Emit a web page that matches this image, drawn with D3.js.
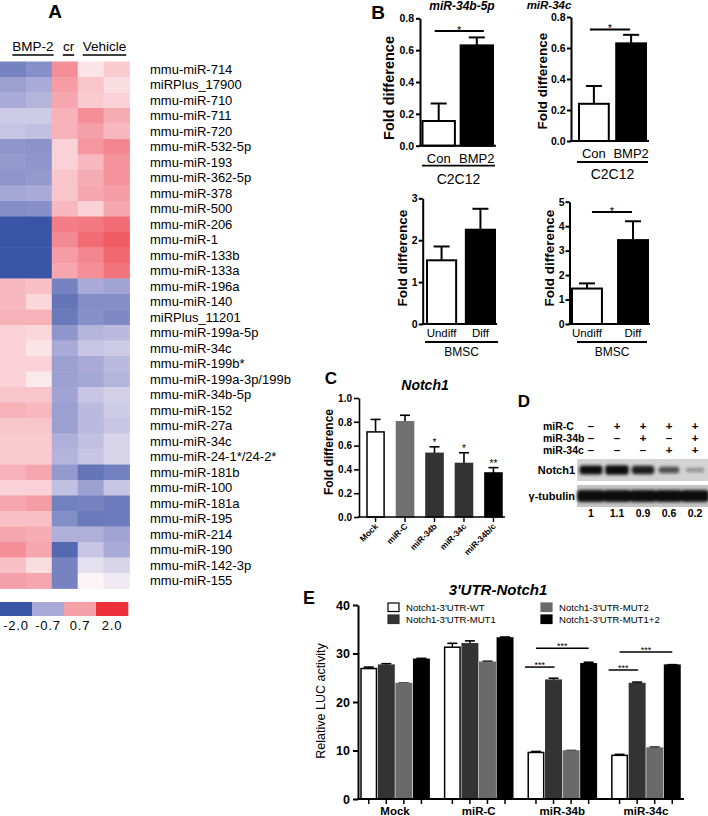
<!DOCTYPE html>
<html>
<head>
<meta charset="utf-8">
<script src="https://cdn.jsdelivr.net/npm/d3@7/dist/d3.min.js"></script>
<style>
html,body{margin:0;padding:0;background:#fff;}
svg{display:block;}
</style>
</head>
<body>
<svg id="fig" width="708" height="816" xmlns="http://www.w3.org/2000/svg"></svg>
<script>
// ===== Panel A: heatmap data =====
const mirnaLabels = ["mmu-miR-714","miRPlus_17900","mmu-miR-710","mmu-miR-711","mmu-miR-720","mmu-miR-532-5p","mmu-miR-193","mmu-miR-362-5p","mmu-miR-378","mmu-miR-500","mmu-miR-206","mmu-miR-1","mmu-miR-133b","mmu-miR-133a","mmu-miR-196a","mmu-miR-140","miRPlus_11201","mmu-miR-199a-5p","mmu-miR-34c","mmu-miR-199b*","mmu-miR-199a-3p/199b","mmu-miR-34b-5p","mmu-miR-152","mmu-miR-27a","mmu-miR-34c","mmu-miR-24-1*/24-2*","mmu-miR-181b","mmu-miR-100","mmu-miR-181a","mmu-miR-195","mmu-miR-214","mmu-miR-190","mmu-miR-142-3p","mmu-miR-155"];
const heatColumns = ["BMP-2 #1","BMP-2 #2","cr","Vehicle #1","Vehicle #2"];
const heatValues = [
 [-1.3,-1.1,0.9,0.15,0.35],
 [-0.85,-0.7,0.75,0.4,0.2],
 [-0.7,-0.6,0.65,0.35,0.3],
 [-0.4,-0.4,0.55,0.9,0.6],
 [-0.45,-0.5,0.55,0.7,0.5],
 [-1.0,-1.05,0.3,0.8,1.0],
 [-0.95,-1.0,0.3,0.5,0.85],
 [-1.0,-0.95,0.4,0.6,0.85],
 [-0.75,-0.7,0.4,0.65,0.75],
 [-1.15,-1.1,0.5,0.3,0.65],
 [-2.0,-2.0,1.1,1.15,1.3],
 [-2.0,-2.0,0.95,1.3,1.5],
 [-2.0,-2.0,0.75,1.0,1.35],
 [-2.0,-2.0,0.65,0.9,1.2],
 [0.5,0.45,-1.3,-0.7,-0.8],
 [0.5,0.25,-1.5,-1.15,-1.15],
 [0.55,0.55,-1.45,-1.1,-1.2],
 [0.3,0.25,-1.0,-0.6,-0.55],
 [0.3,0.15,-0.7,-0.45,-0.4],
 [0.3,0.3,-0.85,-0.7,-0.55],
 [0.3,0.1,-0.85,-0.75,-0.6],
 [0.4,0.4,-0.8,-0.45,-0.35],
 [0.55,0.5,-0.85,-0.55,-0.4],
 [0.4,0.4,-0.85,-0.55,-0.45],
 [0.35,0.35,-0.65,-0.5,-0.3],
 [0.35,0.35,-0.6,-0.45,-0.3],
 [0.55,0.65,-0.95,-1.5,-1.35],
 [0.3,0.3,-0.5,-0.85,-0.45],
 [0.65,0.75,-1.35,-1.3,-1.4],
 [0.45,0.45,-1.15,-1.45,-1.4],
 [0.65,0.6,-0.65,-0.65,-0.8],
 [0.9,0.65,-1.7,-0.45,-0.7],
 [0.45,0.2,-1.3,-0.2,-0.3],
 [0.7,0.65,-1.3,0.02,-0.1]
];
const heatLegendTicks = [-2.0, -0.7, 0.7, 2.0];

// ===== Panel B data =====
const c2c12Groups = ["Con", "BMP2"];
const mir34b5pC2C12 = [0.155, 0.63];
const mir34b5pC2C12Err = [0.11, 0.05];
const mir34cC2C12 = [0.24, 0.63];
const mir34cC2C12Err = [0.115, 0.055];
const bmscGroups = ["Undiff", "Diff"];
const mir34b5pBMSC = [1.52, 2.25];
const mir34b5pBMSCErr = [0.33, 0.5];
const mir34cBMSC = [1.45, 3.43];
const mir34cBMSCErr = [0.21, 0.77];
const ticksC2C12 = [0, 0.2, 0.4, 0.6, 0.8];
const ticksBMSC34b = [0, 1, 2, 3];
const ticksBMSC34c = [0, 1, 2, 3, 4, 5];

// ===== Panel C data =====
const notchGroups = ["Mock", "miR-C", "miR-34b", "miR-34c", "miR-34b/c"];
const notchFold = [0.715, 0.80, 0.535, 0.45, 0.37];
const notchFoldErr = [0.105, 0.055, 0.055, 0.09, 0.045];
const notchSig = ["", "", "*", "*", "**"];
const notchTicks = [0, 0.2, 0.4, 0.6, 0.8, 1.0];

// ===== Panel D data =====
const blotRowLabels = ["miR-C", "miR-34b", "miR-34c"];
const blotMirC = ["\u2013", "+", "+", "+", "+"];
const blotMir34b = ["\u2013", "\u2013", "+", "\u2013", "+"];
const blotMir34c = ["\u2013", "\u2013", "\u2013", "+", "+"];
const notchBlotRatio = [1, 1.1, 0.9, 0.6, 0.2];
const notchBlotLabels = ["1", "1.1", "0.9", "0.6", "0.2"];

// ===== Panel E data =====
const lucGroups = ["Mock", "miR-C", "miR-34b", "miR-34c"];
const lucSeries = ["Notch1-3'UTR-WT", "Notch1-3'UTR-MUT1", "Notch1-3'UTR-MUT2", "Notch1-3'UTR-MUT1+2"];
const lucWT = [26.9, 31.3, 9.6, 9.0];
const lucWTErr = [0.3, 0.8, 0.2, 0.2];
const lucMUT1 = [27.6, 32.0, 24.5, 23.8];
const lucMUT1Err = [0.3, 0.6, 0.4, 0.3];
const lucMUT2 = [23.8, 28.2, 9.9, 10.5];
const lucMUT2Err = [0.1, 0.2, 0.1, 0.2];
const lucMUT12 = [28.8, 33.2, 27.9, 27.6];
const lucMUT12Err = [0.2, 0.2, 0.3, 0.1];
const lucTicks = [0, 10, 20, 30, 40];
const lucSigShort = [null, null, 27.2, 26.6];
const lucSigLong = [null, null, 31.1, 30.3];

// =====================================================
const FONT = "'Liberation Sans', Arial, Helvetica, sans-serif";
const svg = d3.select("#fig").attr("font-family", FONT);

function txt(g, x, y, s, o = {}) {
  const t = g.append("text").attr("x", x).attr("y", y).text(s)
    .attr("font-size", o.size || 12)
    .attr("font-weight", o.weight || "normal")
    .attr("font-style", o.style || "normal")
    .attr("text-anchor", o.anchor || "start")
    .attr("fill", o.fill || "#000");
  if (o.rotate) t.attr("transform", `rotate(${o.rotate},${x},${y})`);
  if (o.dy) t.attr("dy", o.dy);
  return t;
}
function line(g, x1, y1, x2, y2, w = 1.5, c = "#000") {
  return g.append("line").attr("x1", x1).attr("y1", y1).attr("x2", x2).attr("y2", y2)
    .attr("stroke", c).attr("stroke-width", w);
}

// ---------- Panel A ----------
(function () {
  const g = svg.append("g");
  const hx = d3.scaleBand().domain(heatColumns).range([0, 129.5]);
  const hy = d3.scaleBand().domain(d3.range(mirnaLabels.length)).range([61.5, 588.5]);
  const color = d3.scaleLinear().domain([-2, -0.7, 0, 0.7, 2])
    .range(["#3a55a5", "#a9aad7", "#fcf6f8", "#f5a0a8", "#ed3039"]).clamp(true);

  const rows = g.selectAll("g.row").data(heatValues).join("g").attr("class", "row");
  rows.selectAll("rect").data((d, i) => d.map((v, j) => ({ v, i, j }))).join("rect")
    .attr("x", d => hx(heatColumns[d.j])).attr("y", d => hy(d.i))
    .attr("width", hx.bandwidth() + 0.4).attr("height", hy.bandwidth() + 0.4)
    .attr("fill", d => color(d.v));

  g.selectAll("text.lab").data(mirnaLabels).join("text").attr("class", "lab")
    .attr("x", 150).attr("y", (d, i) => hy(i) + hy.bandwidth() / 2).attr("dy", "0.36em")
    .attr("font-size", 13).text(d => d);

  txt(g, 55, 18, "A", { size: 19, weight: "bold", anchor: "middle" });
  const headers = [{ t: "BMP-2", x: 33 }, { t: "cr", x: 68.5 }, { t: "Vehicle", x: 104.5 }];
  headers.forEach(h => {
    const t = txt(g, h.x, 51, h.t, { size: 13.5, anchor: "middle" });
    const w = t.node().getComputedTextLength();
    line(g, h.x - w / 2, 55, h.x + w / 2, 55, 1.6);
  });

  const lx = d3.scaleBand().domain(heatLegendTicks).range([0, 128]);
  g.selectAll("rect.leg").data(heatLegendTicks).join("rect").attr("class", "leg")
    .attr("x", d => lx(d)).attr("y", 602).attr("width", lx.bandwidth() + 0.3).attr("height", 14)
    .attr("fill", d => color(d));
  g.selectAll("text.leg").data(heatLegendTicks).join("text").attr("class", "leg")
    .attr("x", d => lx(d) + lx.bandwidth() / 2).attr("y", 630).attr("text-anchor", "middle")
    .attr("font-size", 13).attr("letter-spacing", 0.8)
    .text(d => d3.format(".1f")(d).replace("\u2212", "-"));
})();

// ---------- Panel B ----------
function barPanel(c) {
  const g = svg.append("g");
  const y = d3.scaleLinear().domain([0, c.yMax]).range([c.yBottom, c.yTop]);
  const x = d3.scaleBand().domain(c.groups).range(c.xRange).paddingInner(c.pad);
  const bw = x.bandwidth();
  const cx = d => x(d) + bw / 2;

  c.groups.forEach((d, i) => {
    const top = y(c.values[i] + c.errs[i]);
    line(g, cx(d), y(c.values[i]), cx(d), top, 2);
    line(g, cx(d) - c.cap / 2, top, cx(d) + c.cap / 2, top, 2);
  });
  g.selectAll("rect.bar").data(c.groups).join("rect").attr("class", "bar")
    .attr("x", d => x(d)).attr("width", bw)
    .attr("y", (d, i) => y(c.values[i])).attr("height", (d, i) => y(0) - y(c.values[i]))
    .attr("fill", (d, i) => c.fills[i]).attr("stroke", "#000").attr("stroke-width", 2);

  const ax = g.append("g").attr("transform", `translate(${c.axisX},0)`)
    .call(d3.axisLeft(y).tickValues(c.ticks).tickFormat(c.fmt).tickSize(4).tickSizeOuter(0).tickPadding(c.tickPad));
  ax.attr("font-family", FONT);
  ax.select(".domain").attr("stroke-width", 2);
  ax.selectAll(".tick line").attr("stroke-width", 2);
  ax.selectAll(".tick text").attr("font-size", c.tickSize).attr("font-weight", "bold").attr("fill", "#000");
  line(g, c.axisX - 1, y(0), c.xEnd, y(0), 2);

  c.groups.forEach(d => txt(g, cx(d), y(0) + c.labDy, d, { size: c.labSize, anchor: "middle" }));
  line(g, c.ul[0], y(0) + c.ulDy, c.ul[1], y(0) + c.ulDy, 1.8);
  txt(g, (c.ul[0] + c.ul[1]) / 2, y(0) + c.grpDy, c.grpText, { size: c.grpSize, anchor: "middle" });

  if (c.sig) {
    const sy = y(c.sig.value);
    line(g, cx(c.groups[0]) + c.sig.dx0, sy, cx(c.groups[1]) + c.sig.dx1, sy, 2);
    txt(g, (cx(c.groups[0]) + c.sig.dx0 + cx(c.groups[1]) + c.sig.dx1) / 2, sy + 3, "*", { size: 11, anchor: "middle" });
  }
  if (c.title) txt(g, c.title.x, c.title.y, c.title.t, { size: c.title.size, weight: "bold", style: "italic", anchor: "middle" });
  txt(g, c.ylab.x, c.ylab.y, "Fold difference", { size: c.ylab.size, weight: "bold", anchor: "middle", rotate: -90 });
}

barPanel({
  groups: c2c12Groups, values: mir34b5pC2C12, errs: mir34b5pC2C12Err, fills: ["#fff", "#000"],
  yMax: 0.8, yBottom: 145.7, yTop: 18.3, xRange: [422.5, 493], pad: 0.15, axisX: 420, xEnd: 496,
  ticks: ticksC2C12, fmt: d3.format(".1f"), tickSize: 10.5, tickPad: 2, cap: 16,
  labDy: 17, labSize: 13, ul: [422, 495], ulDy: 20, grpDy: 38, grpText: "C2C12", grpSize: 14,
  sig: { value: 0.72, dx0: -4, dx1: 7 },
  title: { t: "miR-34b-5p", x: 462, y: 9.5, size: 12 }, ylab: { x: 394, y: 88, size: 14.5 }
});
barPanel({
  groups: c2c12Groups, values: mir34cC2C12, errs: mir34cC2C12Err, fills: ["#fff", "#000"],
  yMax: 0.8, yBottom: 141, yTop: 17, xRange: [579, 646], pad: 0.2, axisX: 571, xEnd: 649,
  ticks: ticksC2C12, fmt: d3.format(".1f"), tickSize: 10.5, tickPad: 1.5, cap: 16,
  labDy: 17, labSize: 13, ul: [577, 648], ulDy: 21, grpDy: 38, grpText: "C2C12", grpSize: 14,
  sig: { value: 0.72, dx0: -4, dx1: -1 },
  title: { t: "miR-34c", x: 549, y: 8.5, size: 11.5 }, ylab: { x: 547, y: 81, size: 13.5 }
});
barPanel({
  groups: bmscGroups, values: mir34b5pBMSC, errs: mir34b5pBMSCErr, fills: ["#fff", "#000"],
  yMax: 3, yBottom: 324, yTop: 198.3, xRange: [427, 495], pad: 0.25, axisX: 422.7, xEnd: 497,
  ticks: ticksBMSC34b, fmt: d3.format("d"), tickSize: 10.5, tickPad: 1, cap: 16,
  labDy: 13, labSize: 11.5, ul: [425, 498], ulDy: 18, grpDy: 32, grpText: "BMSC", grpSize: 12,
  title: null, ylab: { x: 407, y: 258, size: 13.5 }
});
barPanel({
  groups: bmscGroups, values: mir34cBMSC, errs: mir34cBMSCErr, fills: ["#fff", "#000"],
  yMax: 5, yBottom: 324, yTop: 201.7, xRange: [572, 648], pad: 0.35, axisX: 569.5, xEnd: 650,
  ticks: ticksBMSC34c, fmt: d3.format("d"), tickSize: 10.5, tickPad: 1, cap: 16,
  labDy: 13, labSize: 11.5, ul: [577, 647], ulDy: 18, grpDy: 32, grpText: "BMSC", grpSize: 12,
  sig: { value: 4.58, dx0: 5, dx1: -1 },
  title: null, ylab: { x: 554, y: 258, size: 13.5 }
});
txt(svg, 378, 19, "B", { size: 19, weight: "bold", anchor: "middle" });

// ---------- Panel C ----------
(function () {
  const g = svg.append("g");
  const y = d3.scaleLinear().domain([0, 1]).range([517, 398]);
  const x = d3.scaleBand().domain(notchGroups).range([367, 502]).paddingInner(0.42);
  const bw = x.bandwidth();
  const cx = d => x(d) + bw / 2;
  const fills = ["#ffffff", "#707070", "#333333", "#333333", "#000000"];

  notchGroups.forEach((d, i) => {
    const top = y(notchFold[i] + notchFoldErr[i]);
    line(g, cx(d), y(notchFold[i]), cx(d), top, 1.6);
    line(g, cx(d) - 5, top, cx(d) + 5, top, 1.6);
    if (notchSig[i]) txt(g, cx(d), top - 1, notchSig[i], { size: 10, anchor: "middle" });
  });
  g.selectAll("rect.bar").data(notchGroups).join("rect").attr("class", "bar")
    .attr("x", d => x(d)).attr("width", bw)
    .attr("y", (d, i) => y(notchFold[i])).attr("height", (d, i) => y(0) - y(notchFold[i]))
    .attr("fill", (d, i) => fills[i])
    .attr("stroke", (d, i) => i === 0 ? "#000" : fills[i]).attr("stroke-width", 1.5);

  const ax = g.append("g").attr("transform", "translate(359,0)")
    .call(d3.axisLeft(y).tickValues(notchTicks).tickFormat(d3.format(".1f")).tickSize(5).tickSizeOuter(0).tickPadding(2));
  ax.attr("font-family", FONT);
  ax.select(".domain").attr("stroke-width", 1.6);
  ax.selectAll(".tick line").attr("stroke-width", 1.6);
  ax.selectAll(".tick text").attr("font-size", 10).attr("font-weight", "bold").attr("fill", "#000");
  line(g, 358, y(0), 505, y(0), 1.6);
  notchGroups.forEach(d => {
    line(g, cx(d), y(0), cx(d), y(0) + 5, 1.4);
    txt(g, cx(d) + 3, 527, d, { size: 8.5, weight: "bold", anchor: "end", rotate: -45 });
  });
  txt(g, 425, 390, "Notch1", { size: 14, weight: "bold", style: "italic", anchor: "middle" });
  txt(g, 333, 452, "Fold difference", { size: 12, weight: "bold", anchor: "middle", rotate: -90 });
  txt(g, 331, 384, "C", { size: 17, weight: "bold", anchor: "middle" });
})();

// ---------- Panel D ----------
(function () {
  const g = svg.append("g");
  const defs = svg.append("defs");
  defs.append("filter").attr("id", "blotblur").attr("x", "-30%").attr("y", "-100%")
    .attr("width", "160%").attr("height", "300%")
    .append("feGaussianBlur").attr("stdDeviation", 1.4);
  const lanes = d3.scalePoint().domain(d3.range(notchBlotRatio.length)).range([591, 695]);

  txt(g, 524, 407, "D", { size: 17, weight: "bold", anchor: "middle" });
  const rowsY = [430, 442, 454];
  [blotMirC, blotMir34b, blotMir34c].forEach((row, r) => {
    txt(g, 543, rowsY[r], blotRowLabels[r], { size: 10.5, weight: "bold" });
    row.forEach((s, i) => txt(g, lanes(i), rowsY[r], s, { size: 11.5, weight: "bold", anchor: "middle" }));
  });

  g.append("rect").attr("x", 577).attr("y", 459).attr("width", 131).attr("height", 22).attr("fill", "#d2d2d2");
  const bands = g.append("g").attr("filter", "url(#blotblur)");
  notchBlotRatio.forEach((r, i) => {
    const w = 17 + 6 * r, h = 3 + 6 * r;
    bands.append("rect").attr("x", lanes(i) - w / 2).attr("y", 470 - h / 2).attr("width", w).attr("height", h)
      .attr("rx", 3).attr("fill", "#111").attr("opacity", Math.min(1, 0.2 + 0.8 * r));
  });
  g.append("rect").attr("x", 577).attr("y", 485).attr("width", 131).attr("height", 22).attr("fill", "#c4c4c4");
  const bands2 = g.append("g").attr("filter", "url(#blotblur)");
  notchBlotRatio.forEach((r, i) => {
    bands2.append("rect").attr("x", lanes(i) - 14).attr("y", 490).attr("width", 28).attr("height", 12)
      .attr("rx", 4).attr("fill", "#0c0c0c");
  });
  txt(g, 575, 474, "Notch1", { size: 11, weight: "bold", anchor: "end" });
  txt(g, 575, 500, "\u03b3-tubulin", { size: 11, weight: "bold", anchor: "end" });
  notchBlotLabels.forEach((s, i) => txt(g, lanes(i), 517, s, { size: 10.5, weight: "bold", anchor: "middle" }));
})();

// ---------- Panel E ----------
(function () {
  const g = svg.append("g");
  const y = d3.scaleLinear().domain([0, 40]).range([799, 605]);
  const x = d3.scaleBand().domain(lucGroups).range([361, 680]).paddingInner(0.185);
  const xs = d3.scaleBand().domain(lucSeries).range([0, x.bandwidth()]).paddingInner(0.12);
  const bw = xs.bandwidth();
  const seriesVals = [lucWT, lucMUT1, lucMUT2, lucMUT12];
  const seriesErr = [lucWTErr, lucMUT1Err, lucMUT2Err, lucMUT12Err];
  const fills = ["#ffffff", "#333333", "#6a6a6a", "#000000"];
  const data = [];
  lucGroups.forEach((gr, gi) => lucSeries.forEach((s, si) => data.push({ gr, gi, s, si, v: seriesVals[si][gi], e: seriesErr[si][gi] })));
  const bx = d => x(d.gr) + xs(d.s);

  data.forEach(d => {
    const top = y(d.v + d.e), c = bx(d) + bw / 2;
    line(g, c, y(d.v), c, top, 1.4);
    line(g, c - 5, top, c + 5, top, 1.6);
  });
  g.selectAll("rect.bar").data(data).join("rect").attr("class", "bar")
    .attr("x", bx).attr("width", bw).attr("y", d => y(d.v)).attr("height", d => y(0) - y(d.v))
    .attr("fill", d => fills[d.si]).attr("stroke", d => d.si === 0 ? "#000" : fills[d.si]).attr("stroke-width", 1.5);

  const ax = g.append("g").attr("transform", "translate(358,0)")
    .call(d3.axisLeft(y).tickValues(lucTicks).tickFormat(d3.format("d")).tickSize(5).tickSizeOuter(0).tickPadding(3));
  ax.attr("font-family", FONT);
  ax.select(".domain").attr("stroke-width", 2);
  ax.selectAll(".tick line").attr("stroke-width", 2);
  ax.selectAll(".tick text").attr("font-size", 12.5).attr("font-weight", "bold").attr("fill", "#000");
  line(g, 357, y(0), 684, y(0), 2);
  data.forEach(d => line(g, bx(d) + bw / 2, y(0), bx(d) + bw / 2, y(0) + 5, 1.5));
  lucGroups.forEach(gr => txt(g, x(gr) + x.bandwidth() / 2, 815, gr, { size: 11.5, weight: "bold", anchor: "middle" }));

  lucGroups.forEach((gr, gi) => {
    const c0 = x(gr) + xs(lucSeries[0]) + bw / 2;
    const c1 = x(gr) + xs(lucSeries[1]) + bw / 2;
    const c3 = x(gr) + xs(lucSeries[3]) + bw / 2;
    if (lucSigShort[gi] != null) {
      const sy = y(lucSigShort[gi]);
      line(g, c0 - 11, sy, c1 + 1, sy, 1.5);
      txt(g, (c0 - 11 + c1 + 1) / 2, sy + 1, "***", { size: 9, anchor: "middle" });
    }
    if (lucSigLong[gi] != null) {
      const sy = y(lucSigLong[gi]);
      line(g, c0, sy, c3, sy, 1.5);
      txt(g, (c0 + c3) / 2, sy + 1, "***", { size: 9, anchor: "middle" });
    }
  });

  const legPos = [{ x: 388, y: 603 }, { x: 388, y: 615 }, { x: 541, y: 603 }, { x: 541, y: 615 }];
  lucSeries.forEach((s, i) => {
    g.append("rect").attr("x", legPos[i].x).attr("y", legPos[i].y).attr("width", 11).attr("height", 8.5)
      .attr("fill", fills[i]).attr("stroke", i === 0 ? "#000" : fills[i]).attr("stroke-width", 1.2);
    txt(g, legPos[i].x + 18, legPos[i].y + 8, s, { size: 9.6 });
  });

  txt(g, 498, 595, "3'UTR-Notch1", { size: 15, weight: "bold", style: "italic", anchor: "middle" });
  txt(g, 325, 701, "Relative LUC activity", { size: 12.5, anchor: "middle", rotate: -90 });
  txt(g, 309, 604, "E", { size: 18, weight: "bold", anchor: "middle" });
})();
</script>
</body>
</html>
